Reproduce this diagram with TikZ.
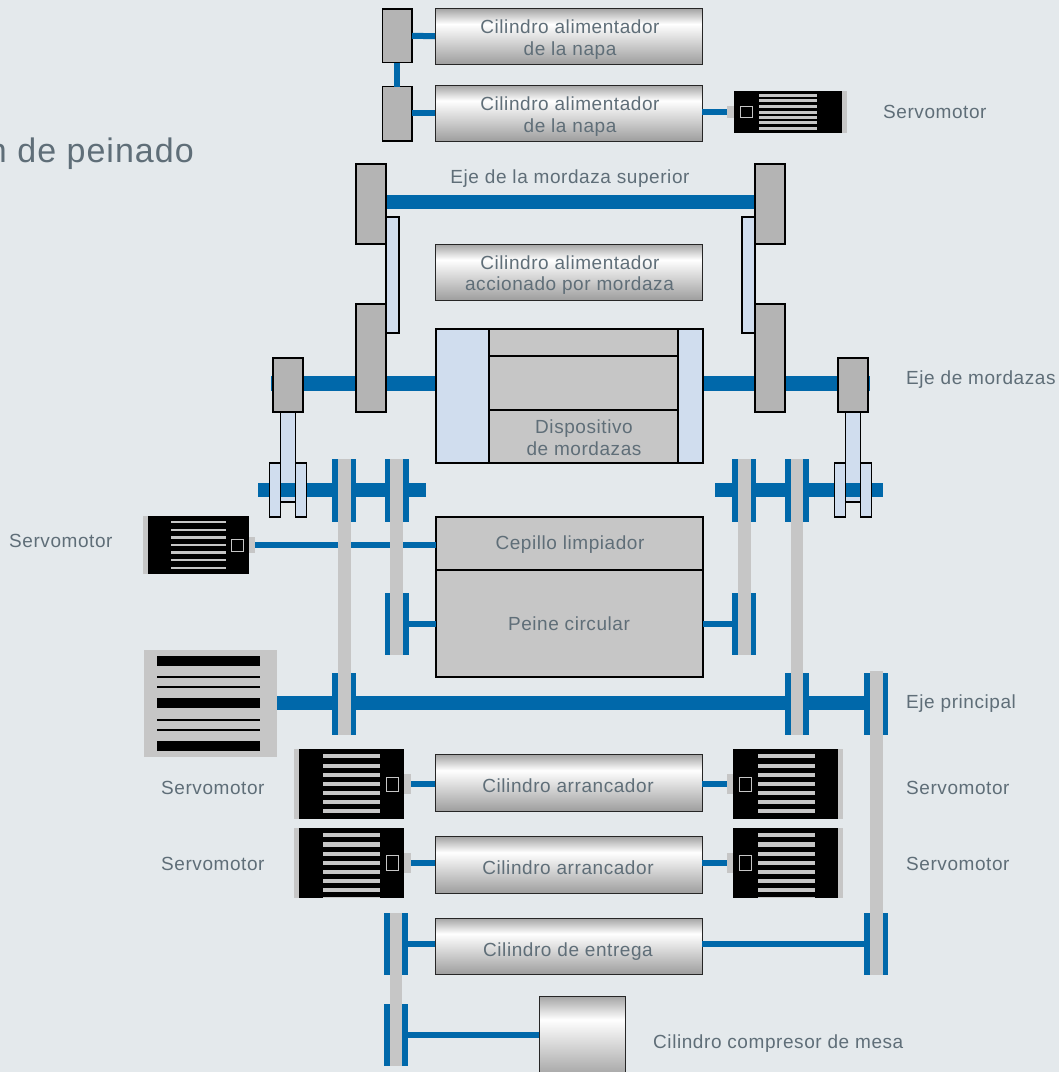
\documentclass[tikz,border=0pt]{standalone}
\usepackage{fontspec}
\setmainfont[LetterSpace=3]{Liberation Sans}
\definecolor{bgc}{HTML}{E4E9EC}
\definecolor{shaftc}{HTML}{0068AA}
\definecolor{beltc}{HTML}{C6C6C6}
\definecolor{wheelc}{HTML}{B4B4B4}
\definecolor{rodc}{HTML}{D0DDEE}
\definecolor{txtc}{HTML}{5F6E78}
\pgfdeclareverticalshading{cylshade}{100bp}{color(0bp)=(black!38);color(25bp)=(black!38);color(42bp)=(black!20);color(61bp)=(white);color(75bp)=(black!36);color(100bp)=(black!36)}
\tikzset{
 base/.style={inner sep=0pt,outer sep=0pt,rectangle},
 flange/.style={base,fill=shaftc},
 belt/.style={base,fill=beltc},
 wheel/.style={base,fill=wheelc,draw=black,line width=1.7pt},
 rod/.style={base,fill=rodc,draw=black,line width=1.4pt},
 rodline/.style={draw=black,line width=1.4pt},
 cyl/.style={base,shading=cylshade,draw=black!85,line width=.9pt},
 pane/.style={base,fill=beltc,draw=black,line width=1.1pt},
 paneb/.style={base,fill=rodc,draw=black,line width=1.1pt},
 blk/.style={base,fill=black},
 sq/.style={base,fill=black,draw=beltc,line width=.8pt},
 lab/.style={text=txtc,font=\fontsize{19}{23}\selectfont,anchor=base,inner sep=0pt},
 labl/.style={lab,anchor=base west},
 thin/.style={draw=shaftc,line width=6pt},
 thick/.style={draw=shaftc,line width=14.5pt},
}
\newcommand{\RR}[6]{\pgfmathsetlengthmacro{\wdd}{(#5-#3)*1pt}\pgfmathsetlengthmacro{\htt}{(#6-#4)*1pt}\node[#1,minimum width=\wdd,minimum height=\htt,anchor=center] (#2) at ({(#3+#5)/2},{(#4+#6)/2}) {};}
\newcommand{\Stripes}[4]{\foreach \yy in {#4}{\fill[beltc] (#1,\yy-#3/2) rectangle (#2,\yy+#3/2);}}
\begin{document}
\begin{tikzpicture}[x=1pt,y=-1pt]
\path[use as bounding box,fill=bgc] (0,0) rectangle (1059,1072);
\node[text=txtc,font=\fontsize{34}{40}\selectfont,anchor=base east,inner sep=0pt] (title) at (194,162) {n de peinado};
% ---------- free coordinates for shafts
\coordinate (uL) at (386,202);\coordinate (uR) at (755,202);
\coordinate (mL) at (271,383.5);\coordinate (mR) at (870,383.5);
\coordinate (lL) at (258,490);\coordinate (lLe) at (426,490);
\coordinate (rL) at (715,490);\coordinate (rLe) at (883,490);
\coordinate (pL) at (277,703);\coordinate (pR) at (865,703);
% ---------- boxes that the shafts run into
\RR{cyl}{ca1}{435}{8.5}{702}{64}
\RR{cyl}{ca2}{435}{85}{702}{141}
\RR{cyl}{cm}{435}{244}{702}{300}
\RR{cyl}{ar1}{435}{754.5}{702}{811}
\RR{cyl}{ar2}{435}{836.5}{702}{893}
\RR{cyl}{ent}{435}{918}{702}{974}
\RR{cyl}{com}{539}{996}{625}{1080}
\RR{pane}{cep}{436}{517}{703}{570}
\RR{pane}{pei}{436}{570}{703}{677}
% ---------- flanges
\RR{flange}{f1a}{332}{459}{338}{521.5}\RR{flange}{f1b}{351}{459}{356}{521.5}
\RR{flange}{f2a}{385}{459}{390}{521.5}\RR{flange}{f2b}{403}{459}{409}{521.5}
\RR{flange}{f3a}{732}{459}{738}{521.5}\RR{flange}{f3b}{751}{459}{756}{521.5}
\RR{flange}{f4a}{785}{459}{790.5}{521.5}\RR{flange}{f4b}{803}{459}{808.5}{521.5}
\RR{flange}{g2a}{385}{593}{390}{655}\RR{flange}{g2b}{403}{593}{409}{655}
\RR{flange}{g3a}{732}{593}{738}{655}\RR{flange}{g3b}{751}{593}{756}{655}
\RR{flange}{h1a}{332}{672.5}{338}{735}\RR{flange}{h1b}{351}{672.5}{356}{735}
\RR{flange}{h4a}{785}{672.5}{790.5}{735}\RR{flange}{h4b}{803}{672.5}{808.5}{735}
\RR{flange}{h5a}{864}{672.5}{870}{735}\RR{flange}{h5b}{883}{672.5}{888}{735}
\RR{flange}{k5a}{864}{913}{870}{975}\RR{flange}{k5b}{883}{913}{888}{975}
\RR{flange}{ea}{384}{913}{389.5}{975}\RR{flange}{eb}{402}{913}{407.5}{975}
\RR{flange}{ca}{384}{1004}{389.5}{1066}\RR{flange}{cb}{402}{1004}{407.5}{1066}
% ---------- wheels
\RR{wheel}{wa1}{382.5}{9}{412}{62.5}
\RR{wheel}{wa2}{382.5}{86.5}{412}{141}
\RR{belt}{bigm}{144}{650}{277}{757}
% ---------- motors: back plate, body, stub, window
\RR{belt}{mt0}{842}{91}{847}{133}\RR{blk}{mt}{734}{91}{842}{133}\RR{belt}{mts}{727}{106}{734}{118}\RR{sq}{mtq}{740.5}{106.5}{752}{117.5}
\RR{belt}{ms0}{143}{516}{148}{574}\RR{blk}{ms}{148}{516}{249}{574}\RR{belt}{mss}{249}{537}{255}{553}\RR{sq}{msq}{231.5}{539}{243}{551}
\RR{belt}{l10}{294}{749}{299}{819}\RR{blk}{l1}{299}{749}{404}{819}\RR{belt}{l1s}{404}{774}{411}{794}\RR{sq}{l1q}{386.5}{777}{398}{791.5}
\RR{belt}{l20}{294}{828}{299}{898}\RR{blk}{l2}{299}{828}{404}{898}\RR{belt}{l2s}{404}{853}{411}{873}\RR{sq}{l2q}{386.5}{855.5}{398}{870}
\RR{belt}{r10}{838}{749}{843}{819}\RR{blk}{r1}{733}{749}{838}{819}\RR{belt}{r1s}{727}{774}{733}{794}\RR{sq}{r1q}{739.5}{777}{751}{791.5}
\RR{belt}{r20}{838}{828}{843}{898}\RR{blk}{r2}{733}{828}{838}{898}\RR{belt}{r2s}{727}{853}{733}{873}\RR{sq}{r2q}{739.5}{855.5}{751}{870}
\Stripes{759}{817}{3}{95,100.7,106.5,112.2,117.5,122.7,128.3}
\Stripes{171}{226}{2.6}{522,530,537.5,545,552.5,560,568}
\Stripes{323}{380}{4.6}{756,766,775,784,793,802,811}
\Stripes{323}{380}{4.6}{835,844.5,854,863,872,881,890}
\fill[beltc] (323,896.5) rectangle (380,898);
\Stripes{758}{815}{4.6}{756,766,775,784,793,802,811}
\Stripes{758}{815}{4.6}{835,844.5,854,863,872,881,890}
\fill[beltc] (758,896.5) rectangle (815,898);
\foreach \a/\b in {656/666,698/708,741/751,676/678,686/688,719/721,729/731}{\fill[black] (157,\a) rectangle (260,\b);}
% ---------- rods that the lower shafts pass over
\RR{rod}{rl1}{280.5}{412}{295.5}{502}
\RR{rod}{rl2}{845.5}{412}{860.5}{502}
% ---------- connectors
\draw[draw=shaftc,line width=6pt] (wa1.south) -- (wa2.north);
\draw[thin] (wa1.east) -- (ca1.west);
\draw[thin] (wa2.east |- ca2.west) -- (ca2.west);
\draw[thin] (mts.west -| ca2.east) -- (mts.west);
\draw[thick] (uL) -- (uR);
\draw[thick] (mL) -- (mR);
\draw[thick] (lL) -- (lLe);
\draw[thick] (rL) -- (rLe);
\draw[thick] (pL) -- (pR);
\draw[thin] (mss.east) -- (mss.east -| cep.west);
\draw[thin] (g2b.east |- pei.west) -- (pei.west);
\draw[thin] (pei.east) -- (g3a.west |- pei.east);
\draw[thin] (l1s.east) -- (l1s.east -| ar1.west);
\draw[thin] (l2s.east) -- (l2s.east -| ar2.west);
\draw[thin] (r1s.west -| ar1.east) -- (r1s.west);
\draw[thin] (r2s.west -| ar2.east) -- (r2s.west);
\draw[thin] (eb.east) -- (eb.east -| ent.west);
\draw[thin] (k5a.west -| ent.east) -- (k5a.west);
\draw[thin] (cb.east) -- (cb.east -| com.west);
\draw[rodline] (rl1.north west) rectangle (rl1.south east);
\draw[rodline] (rl2.north west) rectangle (rl2.south east);
% ---------- belts
\RR{belt}{b1}{338}{459}{351}{735}
\RR{belt}{b2}{390}{459}{403}{655}
\RR{belt}{b3}{738}{459}{751}{655}
\RR{belt}{b4}{790.5}{459}{803}{735}
\RR{belt}{b5}{870}{671}{883}{975}
\RR{belt}{b6}{389.5}{913}{402}{1066}
% ---------- jaw mechanism
\RR{rod}{ru1}{386}{217}{399}{333}
\RR{rod}{ru2}{742}{217}{755}{333}
\RR{wheel}{wu1}{356}{164}{386}{244}
\RR{wheel}{wu2}{755}{164}{785}{244}
\RR{wheel}{wl1}{356}{304}{386}{412}
\RR{wheel}{wl2}{755}{304}{785}{412}
\RR{wheel}{ws1}{273}{358}{303}{412}
\RR{wheel}{ws2}{838}{358}{868}{412}
\RR{rod}{c1a}{269.5}{463}{280.5}{517}
\RR{rod}{c1b}{295.5}{463}{306.5}{517}
\RR{rod}{c2a}{834.5}{463}{845.5}{517}
\RR{rod}{c2b}{860.5}{463}{871.5}{517}
% ---------- jaw device
\RR{paneb}{dl}{436}{329}{489}{463}
\RR{paneb}{dr}{678}{329}{703}{463}
\RR{pane}{d1}{489}{329}{678}{356}
\RR{pane}{d2}{489}{356}{678}{410}
\RR{pane}{d3}{489}{410}{678}{463}
% ---------- labels
\node[lab] (t1) at (570,33) {Cilindro alimentador};
\node[lab] (t2) at (570,55) {de la napa};
\node[lab] (t3) at (570,110) {Cilindro alimentador};
\node[lab] (t4) at (570,132) {de la napa};
\node[lab] (t5) at (570,183) {Eje de la mordaza superior};
\node[lab] (t6) at (570,269) {Cilindro alimentador};
\node[lab] (t7) at (569.5,290) {accionado por mordaza};
\node[lab] (t8) at (584,433) {Dispositivo};
\node[lab] (t9) at (584,455) {de mordazas};
\node[lab] (t10) at (570,549) {Cepillo limpiador};
\node[lab] (t11) at (569,630) {Peine circular};
\node[lab] (t12) at (568,792) {Cilindro arrancador};
\node[lab] (t13) at (568,874) {Cilindro arrancador};
\node[lab] (t14) at (568,956) {Cilindro de entrega};
\node[labl] (s1) at (883,118) {Servomotor};
\node[labl] (s2) at (9,547) {Servomotor};
\node[labl] (s3) at (161,794) {Servomotor};
\node[labl] (s4) at (161,870) {Servomotor};
\node[labl] (s5) at (906,794) {Servomotor};
\node[labl] (s6) at (906,870) {Servomotor};
\node[labl] (e1) at (906,384) {Eje de mordazas};
\node[labl] (e2) at (906,708) {Eje principal};
\node[labl] (e3) at (653,1048) {Cilindro compresor de mesa};
\end{tikzpicture}
\end{document}
